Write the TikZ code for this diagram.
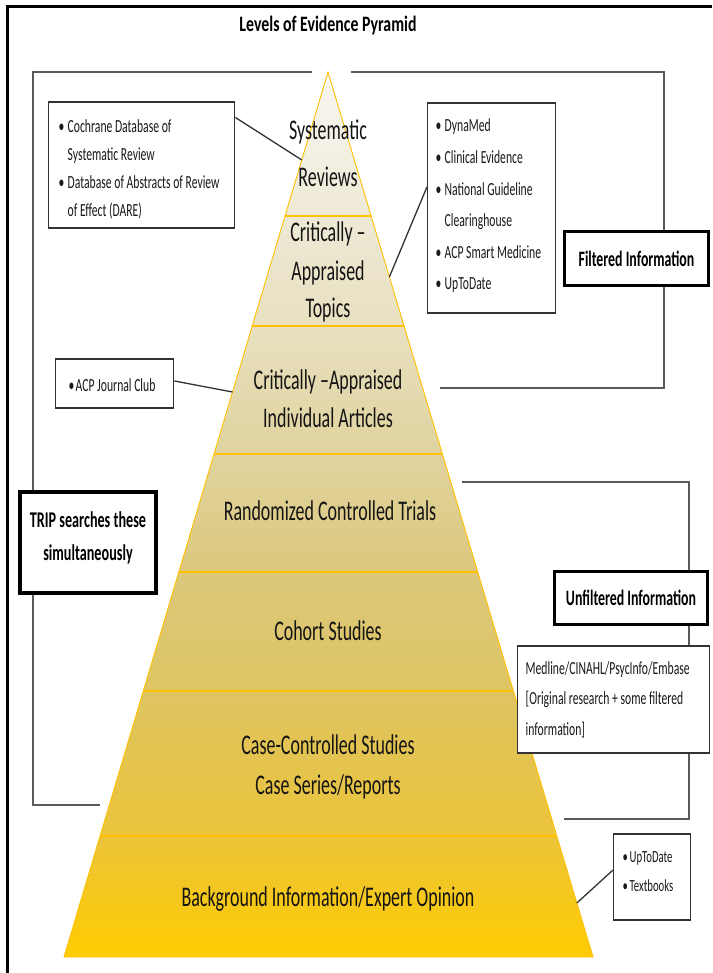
\documentclass[tikz,border=0pt]{standalone}
\usepackage{fontspec}
\setmainfont[FakeStretch=0.63]{Carlito}
\newfontfamily\titlefont[FakeStretch=0.72]{Carlito}
\usetikzlibrary{calc}
\definecolor{c0}{HTML}{F8F7F3}
\definecolor{c1}{HTML}{EEE9D6}
\definecolor{c2}{HTML}{E8E0C0}
\definecolor{c3}{HTML}{E0D39E}
\definecolor{c4}{HTML}{DCC87C}
\definecolor{c5}{HTML}{DEC462}
\definecolor{c6}{HTML}{EBC43A}
\definecolor{c7}{HTML}{FFCC00}
\definecolor{pyrline}{HTML}{FFC000}
\definecolor{brkgray}{HTML}{5A5A5A}
\newcommand\NS{\spaceskip=0pt\xspaceskip=0pt\relax}
\newcommand\BL[2][9pt]{\mbox{\NS\makebox[#1][l]{\textbullet}#2}}
\newcommand\IN[2][9pt]{\mbox{\NS\hspace*{#1}#2}}
\newcommand\PL[1]{\mbox{\NS#1}}
\begin{document}
\begin{tikzpicture}[x=1pt,y=-1pt,
  lbl/.style={anchor=base, inner sep=0pt, font=\fontsize{28.5}{34}\selectfont, text=black!92},
  tbox/.style={draw=black!80, line width=1.4pt, fill=white, inner ysep=0pt, anchor=base west, align=left, text=black!90, font=\fontsize{18.5}{27.7}\selectfont},
  kbox/.style={draw=black, line width=3.2pt, fill=white, inner sep=0pt, align=center, text=black, font=\bfseries\fontsize{22}{33}\selectfont},
  brk/.style={draw=brkgray, line width=1.5pt},
  conn/.style={draw=black!80, line width=1.3pt},
  layerline/.style={draw=pyrline, line width=1.6pt},
  pyrout/.style={draw=pyrline, line width=0.9pt, line join=miter}
]
\useasboundingbox (0,0) rectangle (712,973);
\fill[white] (0,0) rectangle (712,973);
% outer frame
\draw[line width=3pt, black] (7,973) -- (7,7) -- (712,7);
% title
\node[anchor=base, inner sep=0pt, font=\titlefont\bfseries\fontsize{22}{26}\selectfont] (title) at (328,32) {Levels of Evidence Pyramid};
% brackets
\draw[brk] (312,72) -- (33,72) -- (33,805) -- (100,805);
\draw[brk] (351,72) -- (664,72) -- (664,388) -- (440,388);
\draw[brk] (462,482) -- (689,482) -- (689,819) -- (564,819);
% pyramid
\coordinate (apex) at (328,72);
\coordinate (bl) at (64,957);
\coordinate (br) at (593,957);
\foreach \i/\f in {1/0.16271,2/0.28701,3/0.43164,4/0.56497,5/0.69944,6/0.86328}{
  \coordinate (L\i) at ($(apex)!\f!(bl)$);
  \coordinate (R\i) at ($(apex)!\f!(br)$);
}
\shade[top color=c0, bottom color=c1] (apex) -- (R1) -- (L1) -- cycle;
\shade[top color=c1, bottom color=c2] (L1) -- (R1) -- (R2) -- (L2) -- cycle;
\shade[top color=c2, bottom color=c3] (L2) -- (R2) -- (R3) -- (L3) -- cycle;
\shade[top color=c3, bottom color=c4] (L3) -- (R3) -- (R4) -- (L4) -- cycle;
\shade[top color=c4, bottom color=c5] (L4) -- (R4) -- (R5) -- (L5) -- cycle;
\shade[top color=c5, bottom color=c6] (L5) -- (R5) -- (R6) -- (L6) -- cycle;
\shade[top color=c6, bottom color=c7] (L6) -- (R6) -- (br) -- (bl) -- cycle;
\foreach \i in {1,...,6}{\draw[layerline] (L\i) -- (R\i);}
\draw[pyrout] (apex) -- (bl) -- (br) -- cycle;
% pyramid labels
\node[lbl] (t1a) at (328,140) {Systematic};
\node[lbl] (t1b) at (328,187) {Reviews};
\node[lbl] (t2a) at (328,242) {Critically –};
\node[lbl] (t2b) at (328,280) {Appraised};
\node[lbl] (t2c) at (328,317) {Topics};
\node[lbl] (t3a) at (328,389) {Critically –Appraised};
\node[lbl] (t3b) at (328,427) {Individual Articles};
\node[lbl] (t4) at (330,520) {Randomized Controlled Trials};
\node[lbl] (t5) at (328,640) {Cohort Studies};
\node[lbl] (t6a) at (328,754) {Case-Controlled Studies};
\node[lbl] (t6b) at (328,794) {Case Series/Reports};
\node[lbl] (t7) at (328,906) {Background Information/Expert Opinion};
% side boxes
\node[tbox, inner xsep=10pt, text width=166pt, text height=31pt, text depth=95pt] (boxA) at (48,133)
  {\BL{Cochrane Database of}\\\IN{Systematic Review}\\\BL{Database of Abstracts of Review}\\\IN{of Effect (DARE)}};
\node[tbox, inner xsep=8pt, text width=112pt, text height=29pt, text depth=181pt, font=\fontsize{18.5}{31.6}\selectfont] (boxB) at (427,132)
  {\BL{DynaMed}\\\BL{Clinical Evidence}\\\BL{National Guideline}\\\IN{Clearinghouse}\\\BL{ACP Smart Medicine}\\\BL{UpToDate}};
\node[tbox, inner xsep=13pt, text width=92pt, text height=32pt, text depth=17pt] (acp) at (55,391)
  {\BL[7pt]{ACP Journal Club}};
\node[tbox, inner xsep=8pt, text width=176pt, text height=28pt, text depth=79pt, font=\fontsize{18.5}{30.5}\selectfont] (med) at (517,674)
  {\PL{Medline/CINAHL/PsycInfo/Embase}\\\PL{[Original research + some filtered}\\\PL{information]}};
\node[tbox, inner xsep=9pt, text width=59pt, text height=28pt, text depth=58pt, font=\fontsize{17}{29}\selectfont] (utd) at (613,862)
  {\BL[7pt]{UpToDate}\\\BL[7pt]{Textbooks}};
% key boxes
\node[kbox, minimum width=144pt, minimum height=54pt] (filt) at (636.5,258.5) {Filtered Information};
\node[kbox, minimum width=153pt, minimum height=53pt] (unfilt) at (631,598) {Unfiltered Information};
\node[kbox, anchor=base, text width=136pt, text height=35pt, text depth=66pt, font=\bfseries\fontsize{22.5}{33}\selectfont] (trip) at (88,527) {\PL{TRIP searches these}\\\PL{simultaneously}};
% connectors
\coordinate (eA) at ($(apex)!0.0994!(bl)$);
\coordinate (eB) at ($(apex)!0.2316!(br)$);
\coordinate (eC) at ($(apex)!0.3616!(bl)$);
\coordinate (eD) at ($(apex)!0.939!(br)$);
\draw[conn] ($(boxA.north east)!0.127!(boxA.south east)$) -- (eA);
\draw[conn] ($(boxB.north west)!0.40!(boxB.south west)$) -- (eB);
\draw[conn] ($(acp.north east)!0.45!(acp.south east)$) -- (eC);
\draw[conn] ($(utd.north west)!0.42!(utd.south west)$) -- (eD);
\end{tikzpicture}
\end{document}
